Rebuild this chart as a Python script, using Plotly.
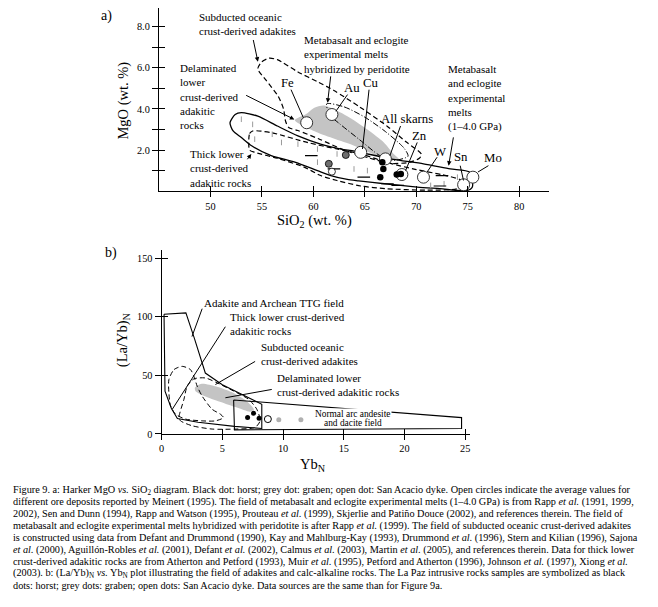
import plotly.graph_objects as go

# the page body adds an 8 px margin; the figure is sized and positioned to compensate
OFF = 8
W, H = 650, 599
FONT = "Liberation Serif"

# ---------------- Panel a data (SiO2 vs MgO) ----------------
ore_names = ["Fe", "Au", "Cu", "All skarns", "Zn", "W", "Sn", "Mo"]
ore_sio2 = [59.35, 61.8, 64.6, 67.0, 68.6, 70.7, 74.6, 75.5]
ore_mgo = [3.33, 3.73, 1.89, 1.57, 0.81, 0.68, 0.31, 0.68]

horst_sio2 = [66.7, 66.8, 66.5, 68.1, 68.5]
horst_mgo = [1.41, 1.08, 0.68, 0.81, 0.84]
graben_sio2 = [63.15, 61.5]
graben_mgo = [1.76, 1.33]
dyke_sio2 = [61.8]
dyke_mgo = [0.95]

dash_sio2 = [59.8, 62.0, 64.9, 67.2, 68.2, 72.3, 72.5]
dash_mgo = [1.73, 1.08, 0.68, 0.36, 0.28, 0.25, 0.76]

tick_sio2 = [53.0, 54.1, 56.0, 54.3, 56.9, 58.5, 60.4, 62.3, 60.4, 63.95, 65.25, 71.4, 72.7, 74.0]
tick_mgo = [3.5, 3.25, 2.77, 2.53, 2.37, 2.29, 2.05, 1.81, 1.41, 1.08, 1.0, 0.28, 0.36, 0.68]

# field: metabasalt and eclogite experimental melts (1-4.0 GPa), solid
melt_sio2 = [51.9, 52.4, 53.0, 54.6, 56.5, 58.5, 60.7, 62.7, 64.0, 67.5, 70.7, 73.3, 75.2, 75.45,
             74.9, 72.3, 70.1, 66.9, 64.4, 63.3, 61.7, 60.4, 58.2, 55.9, 54.0, 53.0, 52.2, 51.9]
melt_mgo = [3.33, 3.73, 3.82, 3.65, 3.17, 2.69, 2.29, 2.05, 1.95, 1.57, 1.33, 1.08, 0.92, 0.2,
            0.02, 0.12, 0.2, 0.36, 0.5, 0.57, 0.76, 1.0, 1.41, 1.73, 2.21, 2.61, 2.93, 3.33]

# field: thick lower crust-derived adakitic rocks, dashed
thick_sio2 = [53.8, 53.8, 54.1, 55.9, 59.4, 62.3, 64.6, 67.5, 70.0, 72.5, 74.3, 74.6, 74.0, 71.0,
              67.0, 64.6, 62.3, 60.7, 59.1, 56.5, 54.3, 53.8]
thick_mgo = [2.0, 2.8, 2.93, 2.85, 2.37, 2.05, 1.81, 1.35, 1.05, 0.8, 0.55, 0.35, 0.12, 0.05,
             0.12, 0.25, 0.52, 0.76, 1.17, 1.6, 1.89, 2.0]

# field: subducted oceanic crust-derived adakites, dashed
subd_sio2 = [54.6, 55.0, 55.7, 56.5, 58.5, 60.5, 62.0, 64.5, 67.2, 69.0, 70.5, 70.3, 69.3, 67.5,
             65.5, 63.0, 60.5, 58.5, 57.6, 57.3, 57.1, 56.6, 55.4, 54.6]
subd_mgo = [5.95, 6.3, 6.47, 6.4, 5.8, 5.3, 4.9, 4.1, 3.15, 2.4, 1.8, 1.6, 1.4, 1.35,
            1.6, 2.0, 2.55, 2.95, 3.1, 3.4, 4.0, 4.6, 5.4, 5.95]

# field: delaminated lower crust-derived adakitic rocks, grey
delam_sio2 = [58.2, 59.3, 60.1, 61.05, 63.3, 65.25, 66.85, 67.8, 68.3, 68.1, 66.2, 63.96, 60.4, 58.2]
delam_mgo = [3.45, 3.75, 4.06, 4.17, 3.65, 3.0, 2.37, 1.81, 1.57, 1.49, 1.73, 2.21, 2.85, 3.45]

# field: metabasalt/eclogite melts hybridized by peridotite, dash-dot
hyb_sio2 = [61.3, 63.0, 65.0, 67.0, 68.8, 69.2, 67.8, 66.4, 64.5, 62.5, 61.6, 61.3]
hyb_mgo = [4.25, 4.1, 3.6, 2.9, 2.1, 1.7, 1.5, 1.75, 2.5, 3.3, 3.7, 4.25]

xa_ticks = [50, 55, 60, 65, 70, 75, 80]
ya_major = [2, 4, 6, 8]
ya_labels = ["2.0", "4.0", "6.0", "8.0"]
ya_minor = [1, 3, 5, 7]

# ---------------- Panel b data (YbN vs (La/Yb)N) ----------------
horst_yb = [7.08, 7.57, 8.03]
horst_la = [14.0, 17.7, 13.5]
graben_yb = [9.65, 11.47]
graben_la = [12.1, 12.1]
dyke_yb = [8.75]
dyke_la = [12.7]

ttg_yb = [0.2, 2.0, 2.7, 3.6, 5.0, 7.0, 8.25, 8.25, 6.0, 3.0, 1.3, 0.8, 0.28, 0.2]
ttg_la = [102.2, 103.3, 81.6, 52.0, 42.0, 32.0, 25.3, 4.7, 6.5, 10.0, 13.2, 22.0, 36.6, 102.2]

arc_yb = [5.93, 24.7, 24.7, 6.0, 5.93]
arc_la = [29.0, 14.0, 4.7, 3.5, 29.0]

thickb_yb = [0.6, 1.02, 1.7, 2.38, 2.66, 2.93, 3.34, 4.16, 4.84, 5.1, 4.43, 3.34, 1.97, 1.15, 0.74, 0.6, 0.6]
thickb_la = [46.4, 54.9, 57.7, 54.9, 49.2, 40.8, 32.3, 21.1, 16.9, 14.0, 11.2, 11.2, 12.7, 16.9, 23.9, 35.1, 46.4]

subdb_yb = [1.84, 2.11, 2.66, 3.61, 4.57, 5.93, 7.16, 7.84, 8.11, 7.7, 6.07, 4.16, 2.52, 1.56, 1.43, 1.84]
subdb_la = [29.6, 40.8, 47.0, 47.8, 43.6, 36.6, 29.6, 21.1, 11.2, 5.6, 4.2, 4.2, 7.0, 11.2, 14.0, 29.6]

delamb_yb = [2.74, 3.3, 4.5, 5.8, 7.0, 7.6, 7.3, 6.2, 4.8, 3.5, 2.8, 2.74]
delamb_la = [39.4, 42.8, 40.5, 35.5, 28.0, 21.0, 19.0, 22.5, 27.5, 32.5, 36.5, 39.4]

xb_ticks = [0, 5, 10, 15, 20, 25]
yb_ticks = [0, 50, 100, 150]

caption_lines = [
    "Figure 9. a: Harker MgO <i>vs.</i> SiO<sub>2</sub> diagram. Black dot: horst; grey dot: graben; open dot: San Acacio dyke. Open circles indicate the average values for",
    "different ore deposits reported by Meinert (1995). The field of metabasalt and eclogite experimental melts (1–4.0 GPa) is from Rapp <i>et al.</i> (1991, 1999,",
    "2002), Sen and Dunn (1994), Rapp and Watson (1995), Prouteau <i>et al.</i> (1999), Skjerlie and Patiño Douce (2002), and references therein. The field of",
    "metabasalt and eclogite experimental melts hybridized with peridotite is after Rapp <i>et al.</i> (1999). The field of subducted oceanic crust-derived adakites",
    "is constructed using data from Defant and Drummond (1990), Kay and Mahlburg-Kay (1993), Drummond <i>et al.</i> (1996), Stern and Kilian (1996), Sajona",
    "<i>et al.</i> (2000), Aguillón-Robles <i>et al.</i> (2001), Defant <i>et al.</i> (2002), Calmus <i>et al.</i> (2003), Martin <i>et al.</i> (2005), and references therein. Data for thick lower",
    "crust-derived adakitic rocks are from Atherton and Petford (1993), Muir <i>et al.</i> (1995), Petford and Atherton (1996), Johnson <i>et al.</i> (1997), Xiong <i>et al.</i>",
    "(2003). b: (La/Yb)<sub>N</sub> <i>vs.</i> Yb<sub>N</sub> plot illustrating the field of adakites and calc-alkaline rocks. The La Paz intrusive rocks samples are symbolized as black",
    "dots: horst; grey dots: graben; open dots: San Acacio dyke. Data sources are the same than for Figure 9a.",
]
caption_y = [495.5, 507.5, 519.5, 531.5, 543.5, 555.5, 567.5, 579.5, 591.5]


def px(x):
    return (x - OFF) / W


def py(y):
    return 1 - (y - OFF) / H


fig = go.Figure()


def outline(x, y, xa, ya, dash="solid", smooth=True, fill=None, fillcolor=None, width=1.2, color="black"):
    fig.add_trace(go.Scatter(
        x=x, y=y, xaxis=xa, yaxis=ya, mode="lines",
        line=dict(color=color, width=width, dash=dash,
                  shape="spline" if smooth else "linear", smoothing=0.7 if smooth else None),
        fill=fill, fillcolor=fillcolor, hoverinfo="skip", showlegend=False))


# ---- Panel a fields ----
outline(delam_sio2, delam_mgo, "x", "y", fill="toself", fillcolor="#c4c4c4", width=0, color="rgba(0,0,0,0)")
outline(melt_sio2, melt_mgo, "x", "y", width=1.3)
outline(thick_sio2, thick_mgo, "x", "y", dash="5px,3px")
outline(subd_sio2, subd_mgo, "x", "y", dash="5px,3px")
outline(hyb_sio2, hyb_mgo, "x", "y", dash="6px,2px,1px,2px", width=1.0)

fig.add_trace(go.Scatter(x=tick_sio2, y=tick_mgo, xaxis="x", yaxis="y", mode="markers",
                         marker=dict(symbol="line-ns", size=4, line=dict(color="#9a9a9a", width=1)),
                         showlegend=False, hoverinfo="skip"))
fig.add_trace(go.Scatter(x=dash_sio2, y=dash_mgo, xaxis="x", yaxis="y", mode="markers",
                         marker=dict(symbol="line-ew", size=9, line=dict(color="black", width=1.2)),
                         showlegend=False, hoverinfo="skip"))
fig.add_trace(go.Scatter(x=ore_sio2, y=ore_mgo, xaxis="x", yaxis="y", mode="markers",
                         marker=dict(symbol="circle", size=12, color="white", line=dict(color="#333", width=1)),
                         showlegend=False, hoverinfo="skip"))
fig.add_trace(go.Scatter(x=graben_sio2, y=graben_mgo, xaxis="x", yaxis="y", mode="markers",
                         marker=dict(size=7, color="#6e6e6e", line=dict(color="black", width=0.8)),
                         showlegend=False, hoverinfo="skip"))
fig.add_trace(go.Scatter(x=dyke_sio2, y=dyke_mgo, xaxis="x", yaxis="y", mode="markers",
                         marker=dict(size=7, color="white", line=dict(color="black", width=0.8)),
                         showlegend=False, hoverinfo="skip"))
fig.add_trace(go.Scatter(x=horst_sio2, y=horst_mgo, xaxis="x", yaxis="y", mode="markers",
                         marker=dict(size=6.5, color="black"),
                         showlegend=False, hoverinfo="skip"))

# ---- Panel b fields ----
outline(delamb_yb, delamb_la, "x2", "y2", fill="toself", fillcolor="#c4c4c4", width=0, color="rgba(0,0,0,0)")
outline(ttg_yb, ttg_la, "x2", "y2", smooth=False, width=1.1)
outline(arc_yb, arc_la, "x2", "y2", smooth=False, width=1.1)
outline(thickb_yb, thickb_la, "x2", "y2", dash="5px,3px", width=1.0)
outline(subdb_yb, subdb_la, "x2", "y2", dash="5px,3px", width=1.0)

fig.add_trace(go.Scatter(x=graben_yb, y=graben_la, xaxis="x2", yaxis="y2", mode="markers",
                         marker=dict(size=5, color="#b0b0b0"), showlegend=False, hoverinfo="skip"))
fig.add_trace(go.Scatter(x=dyke_yb, y=dyke_la, xaxis="x2", yaxis="y2", mode="markers",
                         marker=dict(size=7, color="white", line=dict(color="black", width=1)),
                         showlegend=False, hoverinfo="skip"))
fig.add_trace(go.Scatter(x=horst_yb, y=horst_la, xaxis="x2", yaxis="y2", mode="markers",
                         marker=dict(size=5, color="black"), showlegend=False, hoverinfo="skip"))

# invisible traces for the overlay (inside-tick) axes
fig.add_trace(go.Scatter(x=[], y=[], xaxis="x3", yaxis="y3", showlegend=False))
fig.add_trace(go.Scatter(x=[], y=[], xaxis="x4", yaxis="y4", showlegend=False))

# ---- Axes ----
xa_dom = [px(156.7), px(548)]
ya_dom = [py(193), py(8.3)]
xb_dom = [px(159.3), px(469.2)]
yb_dom = [py(438.3), py(252.4)]
tickfont = dict(family=FONT, size=10.3, color="black")
common = dict(showgrid=False, zeroline=False, linecolor="black", linewidth=1.2,
              tickcolor="black", tickwidth=1.1, tickfont=tickfont, fixedrange=True)

fig.update_layout(
    xaxis=dict(domain=xa_dom, range=[45, 82.85], anchor="y", showline=True, ticks="outside", ticklen=5,
               tickvals=xa_ticks, ticktext=[str(v) for v in xa_ticks], **common),
    yaxis=dict(domain=ya_dom, range=[0, 8.9], anchor="x", showline=True, ticks="outside", ticklen=6,
               tickvals=ya_major, ticktext=ya_labels,
               minor=dict(tickmode="array", tickvals=ya_minor, ticks="outside", ticklen=6,
                          tickcolor="black", tickwidth=1.1, showgrid=False), **common),
    xaxis3=dict(overlaying="x", range=[45, 82.85], anchor="y3", showline=False, ticks="inside", ticklen=5,
                tickvals=xa_ticks, showticklabels=False, **common),
    yaxis3=dict(overlaying="y", range=[0, 8.9], anchor="x3", showline=False, ticks="inside", ticklen=6,
                tickvals=ya_major + ya_minor, showticklabels=False, **common),
    xaxis2=dict(domain=xb_dom, range=[0, 25.4], anchor="y2", showline=True, ticks="outside", ticklen=5,
                tickvals=xb_ticks, ticktext=[str(v) for v in xb_ticks], **common),
    yaxis2=dict(domain=yb_dom, range=[0, 157], anchor="x2", showline=True, ticks="outside", ticklen=6,
                tickvals=yb_ticks, ticktext=[str(v) for v in yb_ticks], **common),
    xaxis4=dict(overlaying="x2", range=[0, 25.4], anchor="y4", showline=False, ticks="inside", ticklen=5,
                tickvals=xb_ticks, showticklabels=False, **common),
    yaxis4=dict(overlaying="y2", range=[0, 157], anchor="x4", showline=False, ticks="inside", ticklen=6,
                tickvals=yb_ticks, showticklabels=False, **common),
)

annotations = []
shapes = []


def text_px(t, x, y, size, xanchor="left", yanchor="middle", align="left", angle=0, bg=None):
    d = dict(text=t, x=px(x), y=py(y), xref="paper", yref="paper", xanchor=xanchor, yanchor=yanchor,
             align=align, showarrow=False, textangle=angle,
             font=dict(family=FONT, size=size, color="black"))
    if bg:
        d["bgcolor"] = bg
        d["borderpad"] = 0
    annotations.append(d)


def arrow(xh, yh, xt, yt, xa, ya):
    annotations.append(dict(text="", x=xh, y=yh, ax=xt, ay=yt, xref=xa, yref=ya, axref=xa, ayref=ya,
                            showarrow=True, arrowhead=2, arrowsize=0.9, arrowwidth=1.0,
                            arrowcolor="black", standoff=0, startstandoff=0))


def leader(x0, y0, x1, y1, xa, ya):
    shapes.append(dict(type="line", x0=x0, y0=y0, x1=x1, y1=y1, xref=xa, yref=ya,
                       line=dict(color="black", width=1)))


# Panel a: field labels
FS = 11
text_px("Subducted oceanic<br>crust-derived adakites", 195, 23.7, FS)
text_px("Metabasalt and eclogite<br>experimental melts<br>hybridized by peridotite", 300, 54.5, FS)
text_px("Delaminated<br>lower<br>crust-derived<br>adakitic<br>rocks", 176, 97, FS)
text_px("Metabasalt<br>and eclogite<br>experimental<br>melts<br>(1–4.0 GPa)", 445, 98.5, FS)
text_px("Thick lower<br>crust-derived<br>adakitic rocks", 186, 170, FS)

arrow(54.61, 6.30, 54.13, 7.43, "x", "y")
arrow(61.38, 4.30, 61.70, 5.66, "x", "y")
arrow(58.15, 3.49, 53.32, 4.70, "x", "y")
arrow(73.14, 1.24, 73.63, 2.69, "x", "y")
arrow(53.97, 1.81, 53.48, 1.48, "x", "y")

# Panel a: ore labels with leader lines
ore_label_pos = [(57.51, 5.26), (63.80, 5.02), (65.57, 5.26), (69.05, 3.49), (70.34, 2.69),
                 (72.34, 1.89), (74.37, 1.65), (77.50, 1.60)]
ore_leaders = [((57.83, 4.94), (59.02, 3.58)), ((63.32, 4.70), (62.19, 3.89)),
               ((65.41, 4.94), (64.77, 2.05)), ((68.47, 3.17), (67.44, 1.73)),
               ((70.09, 2.37), (68.96, 1.0)), ((72.02, 1.65), (71.05, 0.93)),
               ((74.27, 1.24), (74.59, 0.52)), ((77.01, 1.24), (75.99, 0.93))]
for name, (lx, ly), (t, h) in zip(ore_names, ore_label_pos, ore_leaders):
    annotations.append(dict(text=name, x=lx, y=ly, xref="x", yref="y", showarrow=False,
                            xanchor="center", yanchor="middle",
                            font=dict(family=FONT, size=12.8, color="black")))
    leader(t[0], t[1], h[0], h[1], "x", "y")

text_px("a)", 104, 16, 14, xanchor="center")
text_px("MgO (wt. %)", 121, 101, 14.5, xanchor="center", angle=-90)
text_px("SiO<sub>2</sub> (wt. %)", 313, 223, 14.5, xanchor="center")

# Panel b labels
text_px("Adakite and Archean TTG field", 200, 306, 11)
text_px("Thick lower crust-derived<br>adakitic rocks", 226, 326.7, 11)
text_px("Subducted oceanic<br>crust-derived adakites", 256.7, 358, 11)
text_px("Delaminated lower<br>crust-derived adakitic rocks", 273.3, 389, 11)
text_px("Normal arc andesite", 351.7, 418.3, 9.4, xanchor="center", bg="white")
text_px("and dacite field", 351.7, 427.5, 9.4, xanchor="center")

leader(3.34, 106.9, 2.5, 83.1, "x2", "y2")
leader(5.25, 91.5, 0.88, 21.1, "x2", "y2")
leader(7.70, 61.9, 4.43, 42.2, "x2", "y2")
leader(9.07, 38.0, 5.25, 30.9, "x2", "y2")

text_px("b)", 108, 255, 14, xanchor="center")
text_px("(La/Yb)<sub>N</sub>", 120, 343, 14.5, xanchor="center", angle=-90)
text_px("Yb<sub>N</sub>", 311, 470, 14.5, xanchor="center")

# Caption
for line, yy in zip(caption_lines, caption_y):
    text_px(line, 8, yy, 10.25)

fig.update_layout(
    width=W, height=H, margin=dict(l=0, r=0, t=0, b=0),
    paper_bgcolor="white", plot_bgcolor="rgba(0,0,0,0)",
    showlegend=False, annotations=annotations, shapes=shapes,
    font=dict(family=FONT, color="black"),
)

fig.write_html("out.html")
